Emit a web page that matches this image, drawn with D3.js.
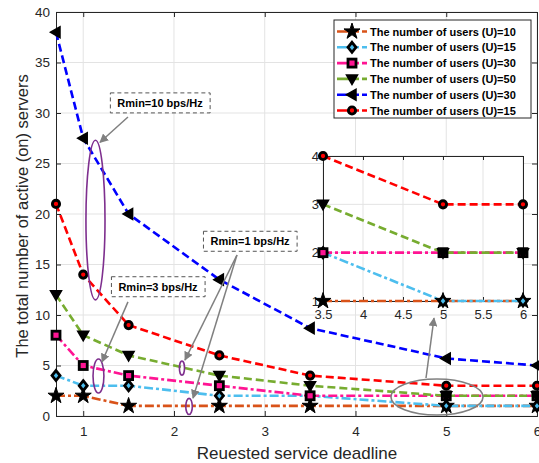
<!DOCTYPE html>
<html><head><meta charset="utf-8">
<script src="https://cdn.jsdelivr.net/npm/d3@7"></script>
<style>body{margin:0;background:#fff}svg{display:block;font-family:"Liberation Sans",Arial,sans-serif}</style>
</head><body><svg id="c" width="539" height="463"></svg>
<script>
// ---- data ----
const deadlines = [0.7, 1, 1.5, 2.5, 3.5, 5, 6];
const u10  = [2, 2, 1, 1, 1, 1, 1];
const u15a = [4, 3, 3, 2, 2, 1, 1];
const u30a = [8, 5, 4, 3, 2, 2, 2];
const u50  = [12, 8, 6, 4, 3, 2, 2];
const u30b = [38, 27.5, 20, 13.5, 8.7, 5.7, 5];
const u15b = [21, 14, 9, 6, 4, 3, 3];
const seriesNames = ["The number of users (U)=10","The number of users (U)=15","The number of users (U)=30",
  "The number of users (U)=50","The number of users (U)=30","The number of users (U)=15"];
const xTicks = [1, 2, 3, 4, 5, 6];
const yTicks = [0, 5, 10, 15, 20, 25, 30, 35, 40];
const insetXTicks = [3.5, 4, 4.5, 5, 5.5, 6];
const insetYTicks = [1, 2, 3, 4];
const insetSeries = [0, 1, 2, 3, 5];
const xLabel = "Reuested service deadline";
const yLabel = "The total number of active (on) servers";

const series = [
  {v:u10,  color:"#D95319", marker:"star", dash:"9,3,3,3"},
  {v:u15a, color:"#4DBEEE", marker:"diamond", dash:"9,3,3,3"},
  {v:u30a, color:"#FF1493", marker:"square", dash:"9,3,3,3"},
  {v:u50,  color:"#77AC30", marker:"tridown", dash:"8,4"},
  {v:u30b, color:"#0000FF", marker:"trileft", dash:"8,4"},
  {v:u15b, color:"#FF0000", marker:"circle", dash:"8,4"}
];

const svg = d3.select("#c");
const L=56, R=537, T=12, B=416;
const x = d3.scaleLinear().domain([0.7,6]).range([L,R]);
const y = d3.scaleLinear().domain([0,40]).range([B,T]);
const axisColor="#262626", gridColor="#e3e3e3";

function drawMarker(g, type, cx, cy, color){
  if(type==="star"){
    const sym=d3.symbol().type(d3.symbolStar).size(80);
    g.append("path").attr("d",sym()).attr("transform",`translate(${cx},${cy})`).attr("fill","#000").attr("stroke","#000").attr("stroke-width",1);
  } else if(type==="diamond"){
    g.append("path").attr("d",`M0,-5L4,0L0,5L-4,0Z`).attr("transform",`translate(${cx},${cy})`).attr("fill",color).attr("stroke","#000").attr("stroke-width",2.8);
  } else if(type==="square"){
    g.append("rect").attr("x",cx-4).attr("y",cy-4).attr("width",8).attr("height",8).attr("fill",color).attr("stroke","#000").attr("stroke-width",2.8);
  } else if(type==="tridown"){
    g.append("path").attr("d",`M-5.5,-4L5.5,-4L0,5.5Z`).attr("transform",`translate(${cx},${cy})`).attr("fill","#000").attr("stroke","#000").attr("stroke-width",1.5);
  } else if(type==="trileft"){
    g.append("path").attr("d",`M-5.5,0L4,-5.5L4,5.5Z`).attr("transform",`translate(${cx},${cy})`).attr("fill","#000").attr("stroke","#000").attr("stroke-width",1.5);
  } else if(type==="circle"){
    g.append("circle").attr("cx",cx).attr("cy",cy).attr("r",3.6).attr("fill",color).attr("stroke","#000").attr("stroke-width",2.9);
  }
}

// grid
const grid = svg.append("g");
xTicks.forEach(t=>grid.append("line").attr("x1",x(t)).attr("x2",x(t)).attr("y1",T).attr("y2",B).attr("stroke",gridColor));
yTicks.forEach(t=>grid.append("line").attr("x1",L).attr("x2",R).attr("y1",y(t)).attr("y2",y(t)).attr("stroke",gridColor));

// axes
const gx = svg.append("g").attr("transform",`translate(0,${B})`).call(d3.axisBottom(x).tickValues(xTicks).tickSize(-5).tickPadding(10).tickFormat(d3.format("d")));
const gy = svg.append("g").attr("transform",`translate(${L},0)`).call(d3.axisLeft(y).tickValues(yTicks).tickSize(-5).tickPadding(6));
const gxt = svg.append("g").attr("transform",`translate(0,${T})`).call(d3.axisTop(x).tickValues(xTicks).tickSize(-5).tickFormat(""));
const gyr = svg.append("g").attr("transform",`translate(${R},0)`).call(d3.axisRight(y).tickValues(yTicks).tickSize(-5).tickFormat(""));
[gx,gy,gxt,gyr].forEach(g=>{
  g.select(".domain").attr("stroke",axisColor).attr("stroke-width",1);
  g.selectAll(".tick line").attr("stroke",axisColor);
  g.selectAll(".tick text").attr("fill",axisColor).attr("font-size",13.5).attr("font-family","Liberation Sans, Arial, sans-serif");
});

// lines
const lineGen = d3.line().x(d=>x(d[0])).y(d=>y(d[1]));
series.forEach(s=>{
  const pts = deadlines.map((d,i)=>[d,s.v[i]]);
  svg.append("path").attr("d",lineGen(pts)).attr("fill","none").attr("stroke",s.color).attr("stroke-width",2.6).attr("stroke-dasharray",s.dash);
});
series.forEach(s=>{
  const g=svg.append("g");
  deadlines.forEach((d,i)=>drawMarker(g,s.marker,x(d),y(s.v[i]),s.color));
});

// annotations
const purple="#7E2F8E", gray="#808080";
svg.append("defs").append("marker").attr("id","ah").attr("viewBox","0 0 10 10").attr("refX",9).attr("refY",5)
  .attr("markerWidth",9).attr("markerHeight",9).attr("markerUnits","userSpaceOnUse").attr("orient","auto")
  .append("path").attr("d","M0,0L10,5L0,10Z").attr("fill",gray);
const ann = svg.append("g");
function ellipse(cx,cy,rxd,ryd,color){
  ann.append("ellipse").attr("cx",x(cx)).attr("cy",y(cy)).attr("rx",x(cx+rxd)-x(cx)).attr("ry",y(cy)-y(cy+ryd))
    .attr("fill","none").attr("stroke",color).attr("stroke-width",1.6);
}
function arrow(x1,y1,x2,y2){
  ann.append("line").attr("x1",x(x1)).attr("y1",y(y1)).attr("x2",x(x2)).attr("y2",y(y2))
    .attr("stroke",gray).attr("stroke-width",1.5).attr("marker-end","url(#ah)");
}
function textbox(cx,cy,txt){
  const g=ann.append("g");
  const t=g.append("text").attr("x",x(cx)).attr("y",y(cy)).attr("text-anchor","middle").attr("dominant-baseline","central")
    .attr("font-size",11).attr("font-weight","bold").attr("fill","#000").text(txt);
  const bb=t.node().getBBox();
  g.insert("rect","text").attr("x",bb.x-7).attr("y",bb.y-4).attr("width",bb.width+14).attr("height",bb.height+8)
    .attr("fill","#fff").attr("stroke","#555").attr("stroke-width",1).attr("stroke-dasharray","4,3");
}
ellipse(1.135,19.4,0.105,7.9,purple);
ellipse(1.168,3.96,0.06,1.68,purple);
ellipse(2.088,4.75,0.028,0.7,purple);
ellipse(2.166,0.95,0.036,0.8,purple);
ellipse(4.898,1.88,0.507,1.78,gray);
arrow(1.493,29.6,1.185,27.1);
arrow(1.493,11.3,1.207,5.35);
arrow(2.694,15.94,2.121,5.54);
arrow(2.694,15.94,2.21,1.78);
arrow(4.777,3.76,4.865,9.7);
textbox(1.846,31.0,"Rmin=10 bps/Hz");
textbox(1.824,12.8,"Rmin=3 bps/Hz");
textbox(2.838,17.3,"Rmin=1 bps/Hz");

// inset
const xi = d3.scaleLinear().domain([3.5,6]).range([323,523]);
const yi = d3.scaleLinear().domain([1,4]).range([301,156]);
const ins = svg.append("g");
ins.append("rect").attr("x",323).attr("y",156).attr("width",200).attr("height",145).attr("fill","#fff");
insetXTicks.forEach(t=>ins.append("line").attr("x1",xi(t)).attr("x2",xi(t)).attr("y1",156).attr("y2",301).attr("stroke",gridColor));
insetYTicks.forEach(t=>ins.append("line").attr("x1",323).attr("x2",523).attr("y1",yi(t)).attr("y2",yi(t)).attr("stroke",gridColor));
const gix = ins.append("g").attr("transform","translate(0,301)").call(d3.axisBottom(xi).tickValues(insetXTicks).tickSize(-4).tickPadding(9).tickFormat(d=>String(d)));
const giy = ins.append("g").attr("transform","translate(323,0)").call(d3.axisLeft(yi).tickValues(insetYTicks).tickSize(-4).tickPadding(4).tickFormat(d3.format("d")));
const git = ins.append("g").attr("transform","translate(0,156)").call(d3.axisTop(xi).tickValues(insetXTicks).tickSize(-4).tickFormat(""));
const gir = ins.append("g").attr("transform","translate(523,0)").call(d3.axisRight(yi).tickValues(insetYTicks).tickSize(-4).tickFormat(""));
[gix,giy,git,gir].forEach(g=>{
  g.select(".domain").attr("stroke",axisColor);
  g.selectAll(".tick line").attr("stroke",axisColor);
  g.selectAll(".tick text").attr("fill",axisColor).attr("font-size",13).attr("font-family","Liberation Sans, Arial, sans-serif");
});
const lineI = d3.line().x(d=>xi(d[0])).y(d=>yi(d[1]));
insetSeries.forEach(k=>{
  const s=series[k];
  const pts = deadlines.map((d,i)=>[d,s.v[i]]).filter(p=>p[0]>=3.5);
  ins.append("path").attr("d",lineI(pts)).attr("fill","none").attr("stroke",s.color).attr("stroke-width",2.6).attr("stroke-dasharray",s.dash);
});
insetSeries.forEach(k=>{
  const s=series[k]; const g=ins.append("g");
  deadlines.forEach((d,i)=>{ if(d>=3.5) drawMarker(g,s.marker,xi(d),yi(s.v[i]),s.color); });
});

// legend
const lg = svg.append("g");
lg.append("rect").attr("x",334).attr("y",20).attr("width",197).attr("height",98).attr("fill","#fff").attr("stroke",axisColor).attr("stroke-width",1);
series.forEach((s,i)=>{
  const cy = 31.5 + i*15.8;
  lg.append("line").attr("x1",337).attr("x2",367).attr("y1",cy).attr("y2",cy).attr("stroke",s.color).attr("stroke-width",2.6).attr("stroke-dasharray","14,3,5,3");
  drawMarker(lg,s.marker,352,cy,s.color);
  lg.append("text").attr("x",370).attr("y",cy).attr("dominant-baseline","central").attr("font-size",11).attr("font-weight","bold").attr("fill","#000").text(seriesNames[i]);
});

// axis labels
svg.append("text").attr("x",297).attr("y",459).attr("text-anchor","middle").attr("font-size",17).attr("fill",axisColor).text(xLabel);
svg.append("text").attr("transform",`translate(28,${216}) rotate(-90)`).attr("text-anchor","middle").attr("font-size",16.5).attr("fill",axisColor).text(yLabel);
</script></body></html>
